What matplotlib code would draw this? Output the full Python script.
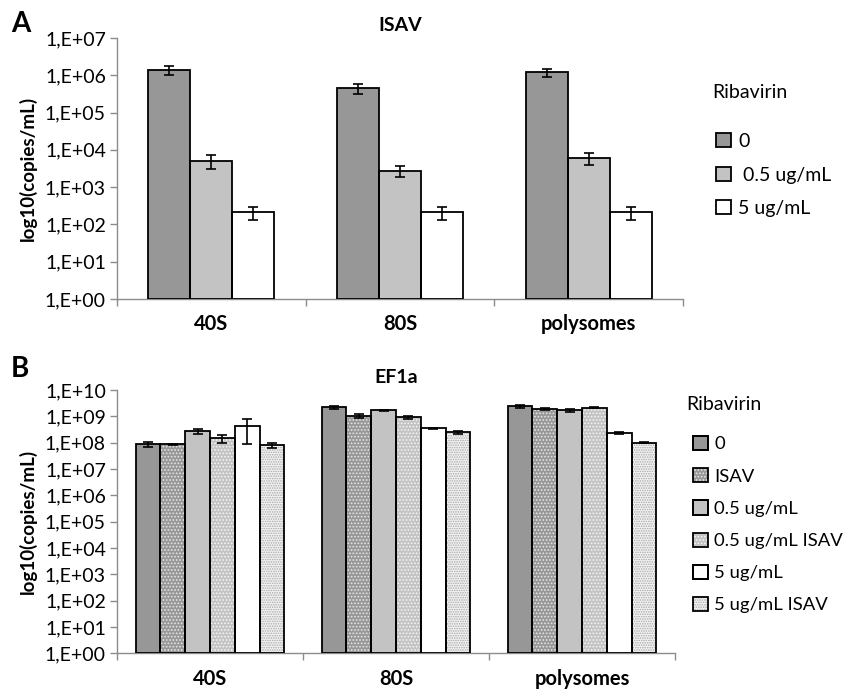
import numpy as np
import matplotlib
matplotlib.use("Agg")
import matplotlib.pyplot as plt
from matplotlib.patches import Patch
from matplotlib.ticker import FixedLocator, FixedFormatter, NullLocator

plt.rcParams['font.family'] = ['Lato', 'DejaVu Sans']
plt.rcParams['hatch.linewidth'] = 0.8

# ---------------- data ----------------
categories = ['40S', '80S', 'polysomes']

# Panel A (ISAV)
a_labels = ['0', ' 0.5 ug/mL', '5 ug/mL']
a_0 = [1.4e6, 4.5e5, 1.2e6]
a_0_err = [0.4e6, 1.4e5, 0.3e6]
a_05 = [5.1e3, 2.75e3, 6.1e3]
a_05_err = [2.0e3, 0.9e3, 2.2e3]
a_5 = [215, 215, 215]
a_5_err = [80, 80, 80]

# Panel B (EF1a)
b_labels = ['0', 'ISAV', '0.5 ug/mL', '0.5 ug/mL ISAV', '5 ug/mL', '5 ug/mL ISAV']
b_0 = [8.9e7, 2.2e9, 2.4e9]
b_0_err = [2.0e7, 3e8, 3e8]
b_isav = [8.7e7, 1.05e9, 1.9e9]
b_isav_err = [5e6, 2e8, 2e8]
b_05 = [2.7e8, 1.7e9, 1.7e9]
b_05_err = [5e7, 1e8, 2e8]
b_05isav = [1.5e8, 9.1e8, 2.1e9]
b_05isav_err = [5e7, 1e8, 1e8]
b_5 = [4.4e8, 3.5e8, 2.3e8]
b_5_err = [3.5e8, 2e7, 1.5e7]
b_5isav = [7.9e7, 2.5e8, 1.0e8]
b_5isav_err = [1.7e7, 3e7, 5e6]

a_ticklabels = ['1,E+00', '1,E+01', '1,E+02', '1,E+03', '1,E+04', '1,E+05', '1,E+06', '1,E+07']
b_ticklabels = ['1,E+00', '1,E+01', '1,E+02', '1,E+03', '1,E+04', '1,E+05', '1,E+06',
                '1,E+07', '1,E+08', '1,E+09', '1,E+10']

# ---------------- styles ----------------
DARK = '#979797'
LIGHT = '#c3c3c3'
WHITE = '#ffffff'
SPINE = '#8c8c8c'
FS = 14

a_styles = [(DARK, None, None), (LIGHT, None, None), (WHITE, None, None)]
b_styles = [(DARK, None, None), (DARK, '.....', '#e6e6e6'), (LIGHT, None, None),
            (LIGHT, '.....', '#f4f4f4'), (WHITE, None, None), ('#f4f4f4', '.......', '#a8a8a8')]

fig = plt.figure(figsize=(8.46, 6.89), dpi=100)


def draw_bar(ax, x, vals, errs, width, style):
    face, hatch, hcol = style
    ax.bar(x, vals, width, bottom=1, color=face, edgecolor='none', linewidth=0, zorder=2)
    if hatch:
        ax.bar(x, vals, width, bottom=1, facecolor='none', edgecolor=hcol, hatch=hatch,
               linewidth=0, zorder=3)
    ax.bar(x, vals, width, bottom=1, facecolor='none', edgecolor='black', linewidth=1.3, zorder=4)
    ax.errorbar(x, np.array(vals) + 1, yerr=errs, fmt='none', ecolor='black', elinewidth=1.2,
                capsize=3.5, capthick=1.2, zorder=5)


def style_axes(ax, ticklabels):
    ax.set_yscale('log')
    n = len(ticklabels)
    ax.set_ylim(1, 10 ** (n - 1))
    ax.yaxis.set_major_locator(FixedLocator([10.0 ** i for i in range(n)]))
    ax.yaxis.set_major_formatter(FixedFormatter(ticklabels))
    ax.yaxis.set_minor_locator(NullLocator())
    ax.set_xlim(-0.5, len(categories) - 0.5)
    ax.set_xticks([i - 0.5 for i in range(len(categories) + 1)])
    ax.set_xticklabels([])
    ax.set_xticks(range(len(categories)), minor=True)
    ax.set_xticklabels(categories, minor=True, fontweight='bold', fontsize=FS + 0.5)
    ax.tick_params(axis='x', which='minor', length=0, pad=11)
    ax.tick_params(axis='x', which='major', length=5, color=SPINE, width=1)
    ax.tick_params(axis='y', which='major', length=5, color=SPINE, width=1, labelsize=FS, pad=3)
    for s in ['top', 'right']:
        ax.spines[s].set_visible(False)
    for s in ['left', 'bottom']:
        ax.spines[s].set_color(SPINE)
        ax.spines[s].set_linewidth(1)
    ax.set_ylabel('log10(copies/mL)', fontweight='bold', fontsize=FS - 0.5, labelpad=6)


# ---------------- Panel A ----------------
axA = fig.add_axes([117 / 846, 1 - 299 / 689, 566 / 846, 261 / 689])
x = np.arange(len(categories))
wA = 0.667 / 3
a_series = [(a_0, a_0_err), (a_05, a_05_err), (a_5, a_5_err)]
for i, (vals, errs) in enumerate(a_series):
    draw_bar(axA, x + (i - 1) * wA, np.array(vals) - 1, errs, wA, a_styles[i])
style_axes(axA, a_ticklabels)
axA.set_title('ISAV', fontweight='bold', fontsize=FS, pad=5)

handlesA = [Patch(facecolor=s[0], edgecolor='black', linewidth=1.3) for s in a_styles]
fig.text(712 / 846, 1 - 93 / 689, 'Ribavirin', fontsize=FS, va='center', ha='left')
fig.legend(handlesA, a_labels, loc='upper left', bbox_to_anchor=(716 / 846, 1 - 133 / 689),
           frameon=False, fontsize=FS, handlelength=0.75, handleheight=0.75, handletextpad=0.4,
           labelspacing=0.85, borderpad=0, borderaxespad=0)

# ---------------- Panel B ----------------
axB = fig.add_axes([117 / 846, 1 - 653.3 / 689, 558 / 846, 263.3 / 689])
wB = 0.8 / 6
b_series = [(b_0, b_0_err), (b_isav, b_isav_err), (b_05, b_05_err),
            (b_05isav, b_05isav_err), (b_5, b_5_err), (b_5isav, b_5isav_err)]
for i, (vals, errs) in enumerate(b_series):
    draw_bar(axB, x + (i - 2.5) * wB, np.array(vals) - 1, errs, wB, b_styles[i])
style_axes(axB, b_ticklabels)
axB.set_title('EF1a', fontweight='bold', fontsize=FS, pad=5)

handlesB = []
for s in b_styles:
    if s[1]:
        handlesB.append(Patch(facecolor=s[0], edgecolor=s[2], hatch=s[1], linewidth=0))
    else:
        handlesB.append(Patch(facecolor=s[0], edgecolor='black', linewidth=1.3))
handlesB2 = [Patch(facecolor='none', edgecolor='black', linewidth=1.3) for s in b_styles]
fig.text(686 / 846, 1 - 405 / 689, 'Ribavirin', fontsize=FS, va='center', ha='left')
fig.legend([(h, h2) for h, h2 in zip(handlesB, handlesB2)], b_labels, loc='upper left',
           bbox_to_anchor=(693 / 846, 1 - 436 / 689),
           frameon=False, fontsize=13.3, handlelength=0.8, handleheight=0.8, handletextpad=0.35,
           labelspacing=0.85, borderpad=0, borderaxespad=0)

# panel letters
fig.text(11 / 846, 1 - 24 / 689, 'A', fontsize=20, fontweight='bold', va='center', ha='left')
fig.text(11 / 846, 1 - 369 / 689, 'B', fontsize=20, fontweight='bold', va='center', ha='left')

fig.savefig('out.png', dpi=100)
